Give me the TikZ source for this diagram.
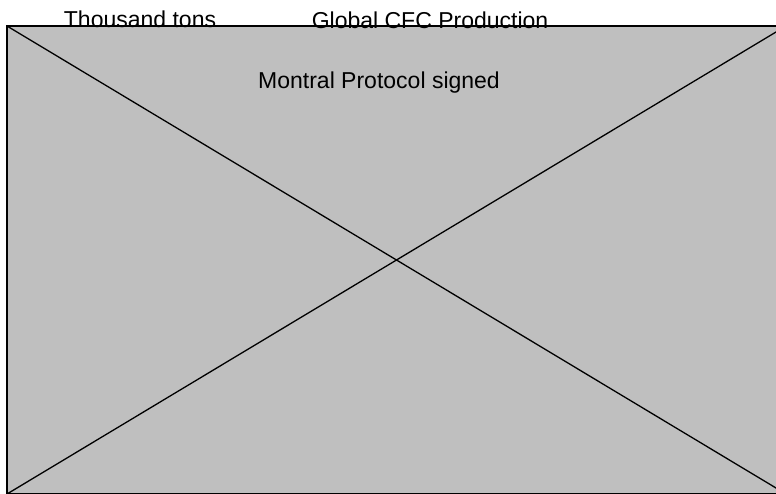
\documentclass[tikz,border=0pt]{standalone}
\usepackage{fontspec}
\setmainfont{Liberation Sans}
\usepackage{tikz}
\usetikzlibrary{positioning}

\tikzset{label text/.style={inner sep=0pt,anchor=base,font=\fontsize{23}{26}\selectfont}}

\begin{document}
\begin{tikzpicture}[x=1pt,y=-1pt]
            \useasboundingbox (0,0) rectangle (776,493);
            \clip (0,0) rectangle (776,493);

            \coordinate (tl) at (7,26);
            \coordinate (br) at (786,494);
            \filldraw [fill=black!25,draw=black,line width=1.3pt] (tl) rectangle (br);

            \draw [line width=1.3pt] (tl) -- (br);
            \draw [line width=1.3pt] (tl |- br) -- (br |- tl);

            \node [label text] (unit) at (140,27.5) {Thousand tons};
            \node [label text] (title) at (430,28) {Global CFC Production};
            \node [label text] (event) at (379,88.5) {Montral Protocol signed};
        \end{tikzpicture}
\end{document}
